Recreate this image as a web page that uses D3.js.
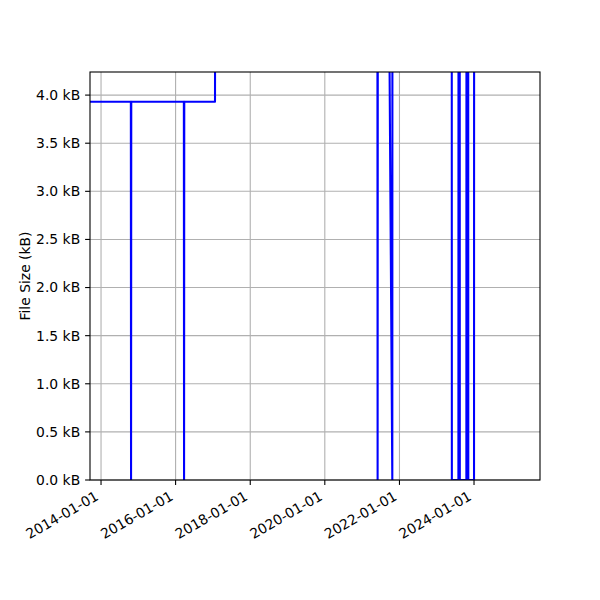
<!DOCTYPE html>
<html>
<head>
<meta charset="utf-8">
<script src="https://cdn.jsdelivr.net/npm/d3@7"></script>
<style>
  body { margin: 0; background: #fff; }
  svg { font-family: "DejaVu Sans", sans-serif; }
</style>
</head>
<body>
<svg width="600" height="600"></svg>
<script>
// file size history (date, size in kB) -- values above the top are clipped
var dates = ["2013-09-15", "2014-10-20", "2014-10-22", "2014-10-24",
             "2016-03-22", "2016-03-24", "2016-03-26",
             "2017-01-21", "2017-01-22",
             "2021-05-30", "2021-06-01", "2021-06-03",
             "2021-09-24", "2021-10-23", "2021-10-24",
             "2023-05-28", "2023-05-29",
             "2023-08-01", "2023-08-02", "2023-08-14", "2023-08-15",
             "2023-10-18", "2023-10-19", "2023-11-05", "2023-11-06",
             "2024-01-01", "2024-01-02"];
var sizes = [3.93, 3.93, 0, 3.93,
             3.93, 0, 3.93,
             3.93, 5.2,
             5.2, 0, 5.2,
             4.6, 0, 5.2,
             5.2, 0,
             0, 5.2, 5.2, 0,
             0, 5.2, 5.2, 0,
             0, 5.2];
var xDomain = ["2013-09-15", "2025-10-08"];
var yTicks = [0, 0.5, 1.0, 1.5, 2.0, 2.5, 3.0, 3.5, 4.0];
var xTickYears = [2014, 2016, 2018, 2020, 2022, 2024];

var parse = d3.utcParse("%Y-%m-%d");
var data = dates.map(function(d, i) { return {date: parse(d), size: sizes[i]}; });

var svg = d3.select("svg");
var mLeft = 90, mRight = 540, mTop = 72, mBottom = 480;

var x = d3.scaleUtc().domain(xDomain.map(parse)).range([mLeft, mRight]);
var y = d3.scaleLinear().domain([0, 4.24]).range([mBottom, mTop]);

var xTicks = xTickYears.map(function(yr) { return new Date(Date.UTC(yr, 0, 1)); });
var fmt = d3.utcFormat("%Y-%m-%d");

// grid
var grid = svg.append("g");
grid.selectAll(".gx").data(xTicks).enter().append("line")
    .attr("x1", function(d) { return x(d); }).attr("x2", function(d) { return x(d); })
    .attr("y1", mTop).attr("y2", mBottom)
    .style("stroke", "#b0b0b0").style("stroke-width", 1.1);
grid.selectAll(".gy").data(yTicks).enter().append("line")
    .attr("x1", mLeft).attr("x2", mRight)
    .attr("y1", function(d) { return y(d); }).attr("y2", function(d) { return y(d); })
    .style("stroke", "#b0b0b0").style("stroke-width", 1.1);

// clip
svg.append("clipPath").attr("id", "clip").append("rect")
    .attr("x", mLeft).attr("y", mTop).attr("width", mRight - mLeft).attr("height", mBottom - mTop);

var line = d3.line()
    .x(function(d) { return x(d.date); })
    .y(function(d) { return y(d.size); });

svg.append("path").datum(data)
    .attr("clip-path", "url(#clip)")
    .attr("d", line)
    .style("fill", "none").style("stroke", "blue").style("stroke-width", 2.08)
    .style("stroke-linejoin", "round");

// frame
svg.append("rect").attr("x", mLeft).attr("y", mTop)
    .attr("width", mRight - mLeft).attr("height", mBottom - mTop)
    .style("fill", "none").style("stroke", "#000").style("stroke-width", 1.1);

// y axis
var yAxis = svg.append("g");
yAxis.selectAll(".t").data(yTicks).enter().append("line")
    .attr("x1", mLeft - 4.9).attr("x2", mLeft)
    .attr("y1", function(d) { return y(d); }).attr("y2", function(d) { return y(d); })
    .style("stroke", "#000").style("stroke-width", 1.1);
yAxis.selectAll(".l").data(yTicks).enter().append("text")
    .attr("x", mLeft - 9.8).attr("y", function(d) { return y(d); })
    .attr("dy", "0.35em").attr("text-anchor", "end")
    .style("font-size", "13.9px")
    .text(function(d) { return d.toFixed(1) + " kB"; });

svg.append("text")
    .attr("transform", "translate(30," + ((mTop + mBottom) / 2) + ") rotate(-90)")
    .attr("text-anchor", "middle")
    .style("font-size", "13.9px")
    .text("File Size (kB)");

// x axis
var xAxis = svg.append("g");
xAxis.selectAll(".t").data(xTicks).enter().append("line")
    .attr("x1", function(d) { return x(d); }).attr("x2", function(d) { return x(d); })
    .attr("y1", mBottom).attr("y2", mBottom + 4.9)
    .style("stroke", "#000").style("stroke-width", 1.1);
xAxis.selectAll(".l").data(xTicks).enter().append("text")
    .attr("transform", function(d) { return "translate(" + (x(d) - 1.5) + "," + (mBottom + 19) + ") rotate(-30)"; })
    .attr("text-anchor", "end")
    .style("font-size", "13.9px")
    .text(function(d) { return fmt(d); });
</script>
</body>
</html>
